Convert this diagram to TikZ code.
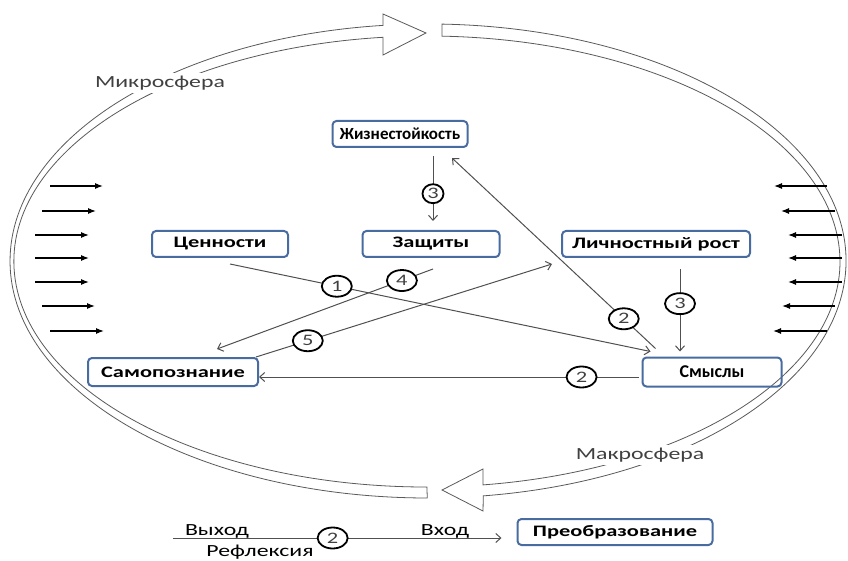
\documentclass[tikz,border=0pt]{standalone}
\usepackage{fontspec}
\setmainfont{Carlito}
\newfontfamily\widefont[FakeStretch=1.4]{Carlito}
\usepackage{tikz}
\usetikzlibrary{positioning,arrows.meta,shapes.geometric}

\definecolor{boxblue}{RGB}{72,108,160}
\definecolor{linkgray}{RGB}{80,80,80}
\definecolor{bandgray}{RGB}{90,90,90}

\begin{document}
\begin{tikzpicture}[x=1pt,y=-1pt,on grid,
  box/.style={draw=boxblue,line width=2pt,rounded corners=4pt,minimum height=26pt,inner sep=2pt,font=\widefont\bfseries\fontsize{16}{16}\selectfont},
  num/.style={ellipse,draw=black,line width=1.8pt,fill=white,inner sep=0pt,minimum width=30pt,minimum height=21pt,text=darkgray,font=\widefont\fontsize{16}{16}\selectfont},
  link/.style={linkgray,line width=1pt,-{Straight Barb[length=5pt,width=9pt]}},
  push/.style={line width=1.1pt,-{Latex[length=8pt,width=6pt]}},
  band/.style={draw=bandgray,line width=0.8pt,fill=white},
  sphere/.style={fill=white,text=darkgray,inner sep=3pt,font=\widefont\fontsize{17}{17}\selectfont},
  lbl/.style={anchor=base,font=\widefont\fontsize{17}{17}\selectfont}]
    \useasboundingbox (0,0) rectangle (848,561);

    % the two curved arrows round the spheres
    \draw[band] (383,25.4) -- (383,14) -- (426,33) -- (383,55) -- (383,37.3)
        arc[start angle=263.9,end angle=90,x radius=413,y radius=225.5] -- (427.3,498)
        arc[start angle=90.1,end angle=263.8,x radius=418,y radius=237] -- cycle;
    \draw[band] (441.9,24.1)
        arc[start angle=271.9,end angle=442.4,x radius=418,y radius=237] -- (483,511) -- (442,490) -- (483,469) -- (483,484.9)
        arc[start angle=442.2,end angle=272.1,x radius=413,y radius=225.5] -- cycle;
    \node[sphere] (micro) at (160,83) {Микросфера};
    \node[sphere] (macro) at (640,455) {Макросфера};

    % pressure from outside
    \foreach \y/\a/\b [count=\i] in {186/50/103,211/42/96,235/35/89,258/35/89,282/35/89,306/42/95,331/50/104} {
        \coordinate (ls\i) at (\a,\y);
        \coordinate (le\i) at (\b,\y);
        \coordinate (rs\i) at (877-\a,\y);
        \coordinate (re\i) at (877-\b,\y);
        \draw[push] (ls\i) -- (le\i);
        \draw[push] (rs\i) -- (re\i);
    }

    \node[box,minimum width=135pt,font=\bfseries\fontsize{17}{17}\selectfont] (zhiz) at (400,134) {Жизнестойкость};
    \node[box,minimum width=137pt] (zash) at (431,244) {Защиты};
    \node[box,minimum width=136pt] (cen) [left=211pt of zash] {Ценности};
    \node[box,minimum width=188pt] (lich) [right=225pt of zash] {Личностный рост};
    \node[box,minimum width=170pt,minimum height=28pt] (samo) at (173,372) {Самопознание};
    \node[box,minimum width=139pt,minimum height=29pt,font=\bfseries\fontsize{18}{18}\selectfont] (smys) [right=539pt of samo] {Смыслы};
    \node[box,minimum width=195pt] (preo) at (615,532) {Преобразование};

    \path[link]
        ([xshift=33pt,yshift=-8pt]zhiz.south) edge node[num,pos=0.58,minimum width=21pt,minimum height=19pt] {3} ([xshift=2pt,yshift=9pt]zash.north)
        ([xshift=10pt,yshift=-6pt]cen.south) edge node[num,pos=0.254] {1} ([xshift=9pt,yshift=5pt]smys.north west)
        ([xshift=2pt,yshift=-11pt]zash.south) edge node[num,pos=0.144] {4} ([xshift=44pt,yshift=8pt]samo.north)
        ([xshift=-3pt]samo.north east) edge node[num,pos=0.175] {5} ([xshift=-9pt,yshift=-6pt]lich.south west)
        ([xshift=14pt,yshift=8pt]smys.north west) edge node[num,pos=0.156] {2} ([xshift=52pt,yshift=-10pt]zhiz.south)
        ([xshift=24pt,yshift=-11pt]lich.south) edge node[num,pos=0.42] {3} ([xshift=-32pt,yshift=5pt]smys.north)
        ([xshift=-3pt,yshift=-5pt]smys.west) edge node[num,pos=0.15] {2} ([yshift=-5pt]samo.east);

    % reflection line at the bottom
    \coordinate (out) at (173,538);
    \path[link] (out) edge node[num,pos=0.486] {2} ([xshift=-15pt,yshift=-6pt]preo.west);
    \node[lbl] (vyhod) at (217,535) {Выход};
    \node[lbl] (vhod) at (445,535) {Вход};
    \node[lbl] (refl) at (260,556) {Рефлексия};
\end{tikzpicture}
\end{document}
